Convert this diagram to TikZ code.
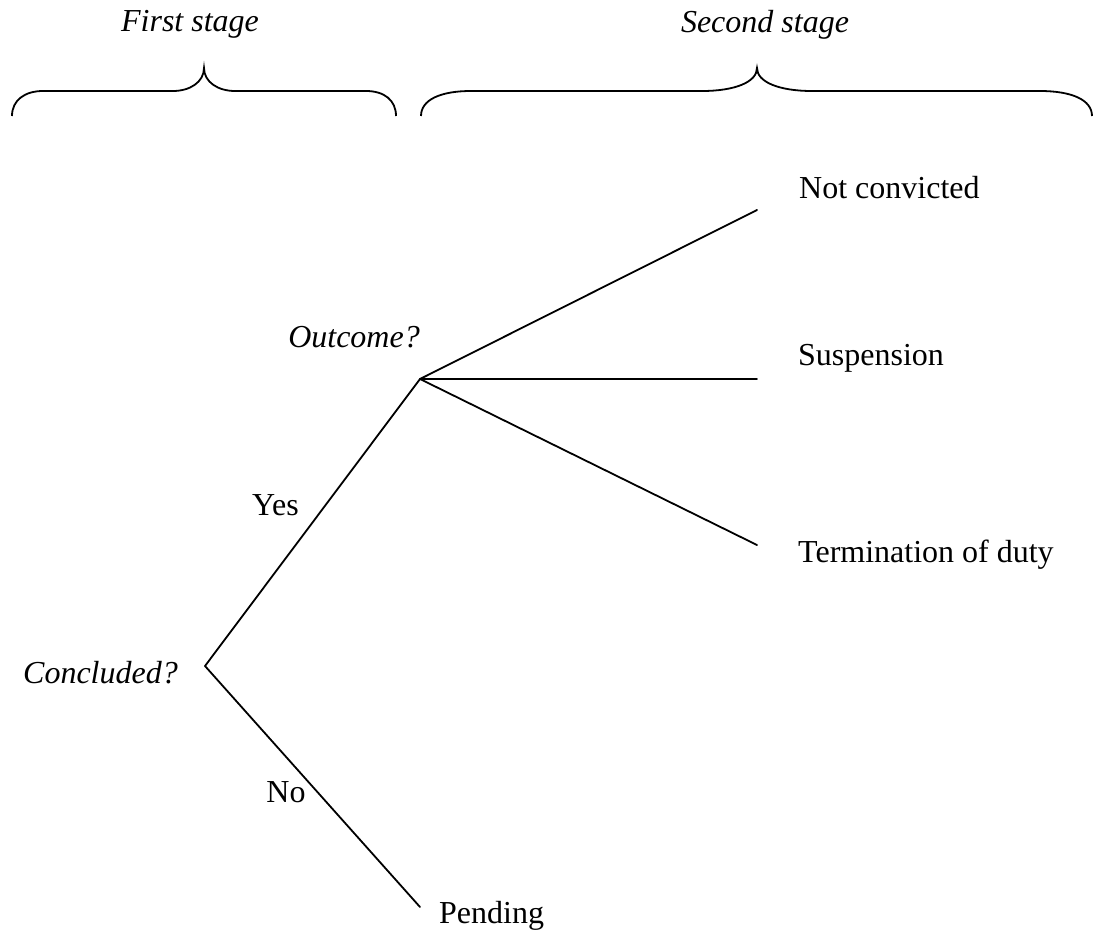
\documentclass[tikz,border=0pt]{standalone}
\usepackage{fontspec}
\setmainfont{Liberation Serif}
\begin{document}
\begin{tikzpicture}[x=1pt,y=-1pt,
  lbl/.style={font=\fontsize{32}{37}\selectfont, inner sep=0pt},
  ital/.style={lbl, font=\fontsize{32}{37}\selectfont\itshape},
  branch/.style={line width=1.8pt, line cap=round},
  bracel/.style={line width=1.8pt}]
\useasboundingbox (0,0) rectangle (1093,934);
% braces
\draw[bracel] (12,116) .. controls (12,100) and (25,91) .. (43,91) -- (173,91)
  .. controls (190,91) and (204,82) .. (204,68)
  .. controls (204,82) and (218,91) .. (235,91) -- (366,91)
  .. controls (384,91) and (396,100) .. (396,116);
\draw[bracel] (421,116) .. controls (421,100) and (440,91) .. (471,91) -- (702,91)
  .. controls (735,91) and (757,82) .. (757,68)
  .. controls (757,82) and (779,91) .. (812,91) -- (1040,91)
  .. controls (1072,91) and (1092,100) .. (1092,116);
\node[ital, anchor=base] (s1) at (190,32) {First stage};
\node[ital, anchor=base] (s2) at (765,33) {Second stage};
% tree vertices
\coordinate (c) at (205,666);
\coordinate (o) at (420,379);
\coordinate (p) at (420,907);
\coordinate (nc) at (757,210);
\coordinate (su) at (757,379);
\coordinate (te) at (757,545);
\draw[branch] (c) -- (o);
\draw[branch] (c) -- (p);
\draw[branch] (o) -- (nc);
\draw[branch] (o) -- (su);
\draw[branch] (o) -- (te);
% labels
\node[ital, anchor=base east] (lc) at (178,683) {Concluded?};
\node[ital, anchor=base east] (lo) at (420,347) {Outcome?};
\node[lbl, anchor=base west] (ly) at (252,515) {Yes};
\node[lbl] (ln) at (286,792) {No};
\node[lbl, anchor=base west] (lp) at (439,923) {Pending};
\node[lbl, anchor=base west] (lnc) at (799,198) {Not convicted};
\node[lbl, anchor=west] (lsu) at (798,358) {Suspension};
\node[lbl, anchor=west] (lte) at (798,555) {Termination of duty};
\end{tikzpicture}
\end{document}
